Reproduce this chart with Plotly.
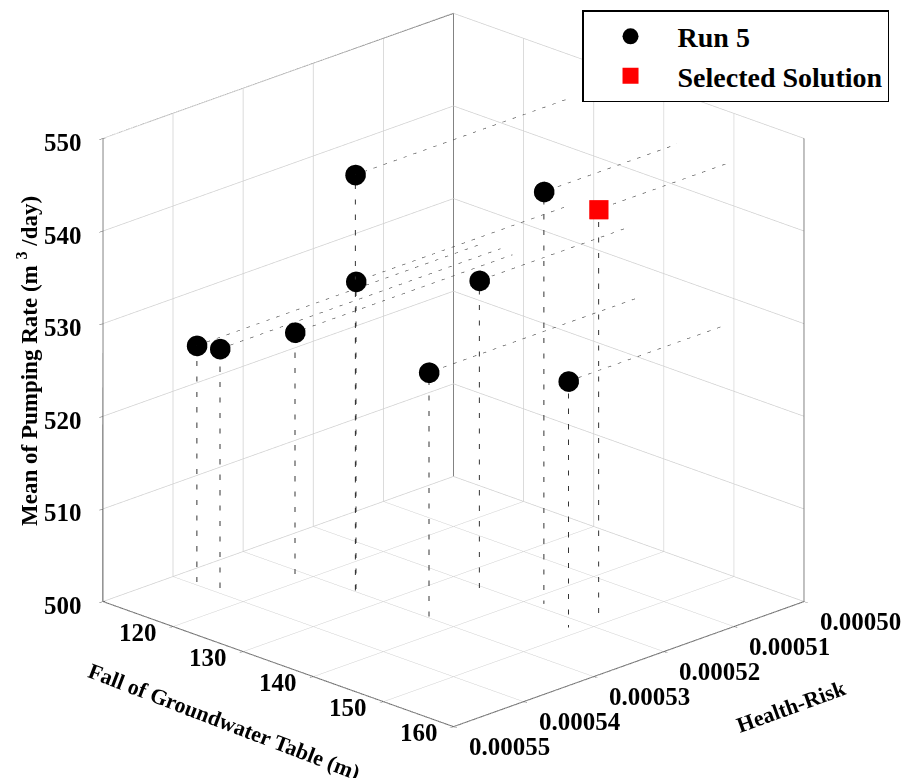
import plotly.graph_objects as go

# ---- data ----
fall_gw = [114.4, 116.7, 118.4, 126.0, 126.1, 136.5, 134.7, 141.9, 148.4]
health_risk = [0.000541, 0.000540, 0.000531, 0.000530, 0.000530, 0.000530, 0.000521, 0.000519, 0.000522]
pumping = [526.4, 526.4, 526.2, 545.0, 533.5, 526.5, 533.5, 544.5, 526.6]

sel_fall_gw = [149.7]
sel_health_risk = [0.000519]
sel_pumping = [544.7]

x_range = [110, 160]
y_range = [0.00050, 0.00055]
z_range = [500, 550]
x_ticks = [120, 130, 140, 150, 160]
y_ticks = [0.00050, 0.00051, 0.00052, 0.00053, 0.00054, 0.00055]
z_ticks = [500, 510, 520, 530, 540, 550]

series_names = ["Run 5", "Selected Solution"]
x_title = "Fall of Groundwater Table (m)"
y_title = "Health-Risk"
z_title = "Mean of Pumping Rate (m <sup>3</sup> /day)"

FONT = "Liberation Serif"
EDGE = "#555555"
GRID = "#cfcfcf"

all_x = fall_gw + sel_fall_gw
all_y = health_risk + sel_health_risk
all_z = pumping + sel_pumping

x0, x1 = x_range
y0, y1 = y_range
z0, z1 = z_range

# drop lines to floor
dx, dy, dz = [], [], []
for xv, yv, zv in zip(all_x, all_y, all_z):
    dx += [xv, xv, None]
    dy += [yv, yv, None]
    dz += [zv, z0, None]
# projection lines to the back wall (Health-Risk = min)
wx, wy, wz = [], [], []
for xv, yv, zv in zip(all_x, all_y, all_z):
    wx += [xv, xv, None]
    wy += [yv, y0, None]
    wz += [zv, zv, None]

# frame edges of the back walls / floor
edges = [
    ((x0, y1, z0), (x0, y1, z1)),
    ((x0, y0, z0), (x0, y0, z1)),
    ((x1, y0, z0), (x1, y0, z1)),
    ((x0, y1, z1), (x0, y0, z1)),
    ((x0, y0, z1), (x1, y0, z1)),
    ((x0, y1, z0), (x0, y0, z0)),
    ((x0, y0, z0), (x1, y0, z0)),
    ((x0, y1, z0), (x1, y1, z0)),
    ((x1, y1, z0), (x1, y0, z0)),
]
ex, ey, ez = [], [], []
for p, q in edges:
    ex += [p[0], q[0], None]
    ey += [p[1], q[1], None]
    ez += [p[2], q[2], None]

fig = go.Figure()
fig.add_trace(go.Scatter3d(x=ex, y=ey, z=ez, mode="lines",
                           line=dict(color=EDGE, width=2), showlegend=False, hoverinfo="skip"))
fig.add_trace(go.Scatter3d(x=dx, y=dy, z=dz, mode="lines",
                           line=dict(color="#333333", width=2, dash="dot"), showlegend=False, hoverinfo="skip"))
fig.add_trace(go.Scatter3d(x=wx, y=wy, z=wz, mode="lines",
                           line=dict(color="#444444", width=1.2, dash="dot"), showlegend=False, hoverinfo="skip"))
fig.add_trace(go.Scatter3d(x=fall_gw, y=health_risk, z=pumping, mode="markers", name=series_names[0],
                           marker=dict(symbol="circle", size=12, color="black", line=dict(width=0)),
                           showlegend=False))
fig.add_trace(go.Scatter3d(x=sel_fall_gw, y=sel_health_risk, z=sel_pumping, mode="markers",
                           name=series_names[1], showlegend=False,
                           marker=dict(symbol="square", size=10, color="red", line=dict(width=0))))
# legend entries (larger legend symbols)
fig.add_trace(go.Scatter(x=[None], y=[None], mode="markers", name=series_names[0],
                         marker=dict(symbol="circle", size=16, color="black")))
fig.add_trace(go.Scatter(x=[None], y=[None], mode="markers", name=series_names[1],
                         marker=dict(symbol="square", size=16, color="red")))

tick_font = dict(family=FONT, size=25, color="black", weight="bold")
title_font = dict(family=FONT, size=22, color="black", weight="bold")

ann = []
for zt in z_ticks:
    ann.append(dict(x=x0, y=y1, z=zt, text=str(zt), showarrow=False, font=tick_font,
                    xanchor="center", yanchor="middle", xshift=-40, yshift=-4))
for xt in x_ticks:
    ann.append(dict(x=xt, y=y1, z=z0, text=str(xt), showarrow=False, font=tick_font,
                    xanchor="center", yanchor="middle", xshift=-35, yshift=-6))
for yt in y_ticks:
    ann.append(dict(x=x1, y=yt, z=z0, text=f"{yt:.5f}", showarrow=False, font=tick_font,
                    xanchor="center", yanchor="middle", xshift=56, yshift=-20))
ann.append(dict(x=(x0 + x1) / 2, y=y1, z=z0, text=x_title, showarrow=False, font=title_font,
                textangle=21, xanchor="center", yanchor="middle", xshift=-54, yshift=-57))
ann.append(dict(x=x1, y=(y0 + y1) / 2, z=z0, text=y_title, showarrow=False, font=title_font,
                textangle=-20, xanchor="center", yanchor="middle", xshift=162, yshift=-42))
ann.append(dict(x=x0, y=y1, z=(z0 + z1) / 2, text=z_title, showarrow=False,
                font=dict(title_font, size=23),
                textangle=-90, xanchor="center", yanchor="middle", xshift=-76, yshift=9))

axis_common = dict(showbackground=False, gridcolor=GRID, gridwidth=1.5, zeroline=False,
                   showline=True, linecolor=EDGE, linewidth=2, ticks="outside", ticklen=5,
                   tickcolor=EDGE, showspikes=False, showticklabels=False, title=dict(text=""))

fig.update_layout(
    width=907, height=778,
    margin=dict(l=0, r=0, t=0, b=0),
    paper_bgcolor="white",
    plot_bgcolor="rgba(0,0,0,0)",
    hovermode=False,
    xaxis=dict(visible=False),
    yaxis=dict(visible=False),
    scene=dict(
        domain=dict(x=[0, 1], y=[0.0488, 1]),
        xaxis=dict(axis_common, range=x_range, tickvals=x_ticks),
        yaxis=dict(axis_common, range=[y1, y0], tickvals=y_ticks),
        zaxis=dict(axis_common, range=z_range, tickvals=z_ticks),
        aspectmode="manual", aspectratio=dict(x=1.34, y=1.34, z=1.34),
        camera=dict(projection=dict(type="orthographic"),
                    eye=dict(x=0.992, y=-0.992, z=0.536),
                    center=dict(x=0, y=0, z=0), up=dict(x=0, y=0, z=1)),
        annotations=ann,
    ),
    legend=dict(x=0.6417, y=0.987, xanchor="left", yanchor="top",
                bordercolor="black", borderwidth=1.5, bgcolor="white",
                font=dict(family=FONT, size=28, color="black", weight="bold"),
                itemsizing="trace", itemwidth=84),
)

fig.write_html("out.html")
